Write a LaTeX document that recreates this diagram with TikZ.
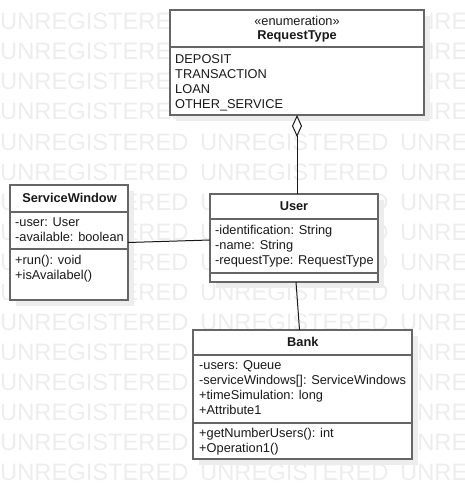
\documentclass[tikz,border=0pt]{standalone}
\usepackage{fontspec}
\setmainfont{Liberation Sans}
\usetikzlibrary{arrows.meta,shadows}
\begin{document}
\begin{tikzpicture}[x=1pt,y=-1pt,
  wm/.style={text=black!7, font=\fontsize{23.7}{24}\selectfont, anchor=base west, inner sep=0},
  umlbox/.style={draw=black!60, line width=1.5pt, fill=white, anchor=north west, inner sep=0, outer sep=0,
    drop shadow={shadow xshift=6pt, shadow yshift=-6pt, fill=black!7, opacity=1}},
  sepline/.style={draw=black!60, line width=1.5pt},
  txt/.style={anchor=base west, inner sep=0, text=black!90, font=\fontsize{12.8}{15}\selectfont},
  ctxt/.style={anchor=base, inner sep=0, text=black!90, font=\fontsize{12.8}{15}\selectfont},
  btxt/.style={anchor=base, inner sep=0, text=black!90, font=\fontsize{12.8}{15}\selectfont\bfseries},
  conn/.style={draw=black!90, line width=1pt}
]
\useasboundingbox (0,0) rectangle (464,500);
% watermark
\begin{scope}
\clip (0,0) rectangle (464,500);
\foreach \r in {0,...,15} {
  \foreach \c in {0,1,2} {
    \node[wm] (wm-\r-\c) at (200*\c, 30+30*\r) {UNREGISTERED};
  }
}
\end{scope}

% RequestType
\node[umlbox, minimum width=254, minimum height=105] (rt) at (170,10) {};
\draw[sepline] (rt.west |- 0,47) -- (rt.east |- 0,47);
\node[ctxt] (rt-st) at (297,26) {«enumeration»};
\node[btxt] (rt-name) at (297,39.5) {RequestType};
\node[txt] (rt-a1) at (175,63.3) {DEPOSIT};
\node[txt] (rt-a2) at (175,78.3) {TRANSACTION};
\node[txt] (rt-a3) at (175,93.3) {LOAN};
\node[txt] (rt-a4) at (175,108.3) {OTHER\_SERVICE};

% ServiceWindow
\node[umlbox, minimum width=118, minimum height=115] (sw) at (10,185) {};
\draw[sepline] (sw.west |- 0,212) -- (sw.east |- 0,212);
\draw[sepline] (sw.west |- 0,249) -- (sw.east |- 0,249);
\node[btxt] (sw-name) at (69.5,202.7) {ServiceWindow};
\node[txt] (sw-a1) at (15,226.5) {-user: User};
\node[txt] (sw-a2) at (15,241.5) {-available: boolean};
\node[txt] (sw-m1) at (15,264.5) {+run(): void};
\node[txt] (sw-m2) at (15,279.5) {+isAvailabel()};

% User
\node[umlbox, minimum width=168, minimum height=88] (user) at (210,194) {};
\draw[sepline] (user.west |- 0,219) -- (user.east |- 0,219);
\draw[sepline] (user.west |- 0,273) -- (user.east |- 0,273);
\node[btxt] (user-name) at (294,210.7) {User};
\node[txt] (user-a1) at (215,234.3) {-identification: String};
\node[txt] (user-a2) at (215,249.3) {-name: String};
\node[txt] (user-a3) at (215,264.3) {-requestType: RequestType};

% Bank
\node[umlbox, minimum width=219, minimum height=129] (bank) at (193,330) {};
\draw[sepline] (bank.west |- 0,355) -- (bank.east |- 0,355);
\draw[sepline] (bank.west |- 0,423) -- (bank.east |- 0,423);
\node[btxt] (bank-name) at (302.8,346.7) {Bank};
\node[txt] (bank-a1) at (199,369.3) {-users: Queue};
\node[txt] (bank-a2) at (199,384.3) {-serviceWindows[]: ServiceWindows};
\node[txt] (bank-a3) at (199,399.3) {+timeSimulation: long};
\node[txt] (bank-a4) at (199,414.3) {+Attribute1};
\node[txt] (bank-m1) at (199,437.7) {+getNumberUsers(): int};
\node[txt] (bank-m2) at (199,452.7) {+Operation1()};

% connectors
\draw[conn, -{Diamond[fill=white, length=22pt, width=10pt]}] (rt.south |- user.north) -- (rt.south);
\draw[conn] (sw.east) -- ([yshift=-2pt]user.west);
\draw[conn] ([xshift=2pt]user.south) -- ([xshift=-3pt]bank.north);
\end{tikzpicture}
\end{document}
